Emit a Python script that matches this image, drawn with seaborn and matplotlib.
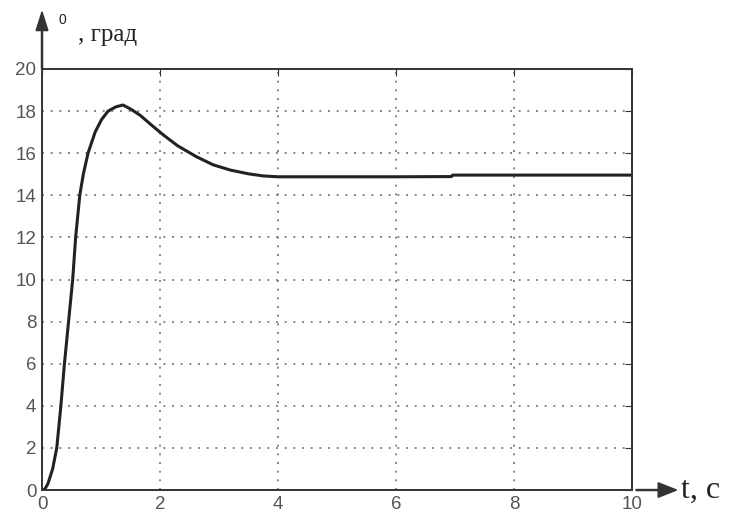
import matplotlib
matplotlib.use("Agg")
import matplotlib.pyplot as plt
import seaborn as sns
import pandas as pd

t_vals = [0.0, 0.05, 0.1, 0.18, 0.25, 0.32, 0.38, 0.45, 0.52, 0.57, 0.64, 0.70, 0.78, 0.90, 1.01, 1.12, 1.25, 1.37,
          1.5, 1.66, 1.85, 2.06, 2.3, 2.62, 2.9, 3.19, 3.5, 3.75, 4.0, 5.0, 6.0, 6.94, 6.96, 8.0, 9.0, 10.0]
theta_vals = [0.0, 0.05, 0.3, 1.0, 2.0, 4.0, 6.0, 8.0, 10.0, 12.0, 14.0, 15.0, 16.0, 17.0, 17.6, 18.0, 18.2, 18.29,
              18.1, 17.81, 17.35, 16.86, 16.35, 15.83, 15.45, 15.2, 15.02, 14.92, 14.88, 14.88, 14.88, 14.89, 14.96, 14.96, 14.96, 14.96]
x_ticks = [0, 2, 4, 6, 8, 10]
y_ticks = [0, 2, 4, 6, 8, 10, 12, 14, 16, 18, 20]

df = pd.DataFrame({"t": t_vals, "theta": theta_vals})

sns.set_style("white")
plt.rcParams["font.family"] = ["Liberation Sans", "DejaVu Sans"]
fig = plt.figure(figsize=(7.37, 5.18), dpi=100)
ax = fig.add_axes([0.057, 0.054, 0.8005, 0.8128])

sns.lineplot(data=df, x="t", y="theta", ax=ax, color="#222222", linewidth=2.2)

ax.set_xlim(0, 10)
ax.set_ylim(0, 20)
ax.set_xticks(x_ticks)
ax.set_yticks(y_ticks)
ax.grid(True, linestyle=(0, (1.2, 4)), color="#777777", linewidth=1.2)
for s in ax.spines.values():
    s.set_color("#333333")
    s.set_linewidth(1.4)
ax.tick_params(direction="in", length=5, colors="#333333", labelcolor="#555555",
               labelsize=13.5, right=True, top=True, pad=4)
ax.set_xlabel("")
ax.set_ylabel("")

# axis arrows
fig.patches.append(matplotlib.patches.FancyArrow(0.057, 0.867, 0, 0.11, width=0.0015,
                   head_width=0.016, head_length=0.036, length_includes_head=True,
                   color="#333333", transform=fig.transFigure, figure=fig))
fig.patches.append(matplotlib.patches.FancyArrow(0.863, 0.054, 0.055, 0, width=0.002,
                   head_width=0.028, head_length=0.025, length_includes_head=True,
                   color="#333333", transform=fig.transFigure, figure=fig))

fig.text(0.079, 0.962, "0", fontsize=10, color="#222222", ha="left", va="center")
fig.text(0.106, 0.932, ", град", fontsize=18, color="#222222", ha="left", va="center",
         family="Liberation Serif")
fig.text(0.924, 0.054, "t, c", fontsize=23, color="#222222", ha="left", va="center",
         family="Liberation Serif")

fig.savefig("out.png", dpi=100)
